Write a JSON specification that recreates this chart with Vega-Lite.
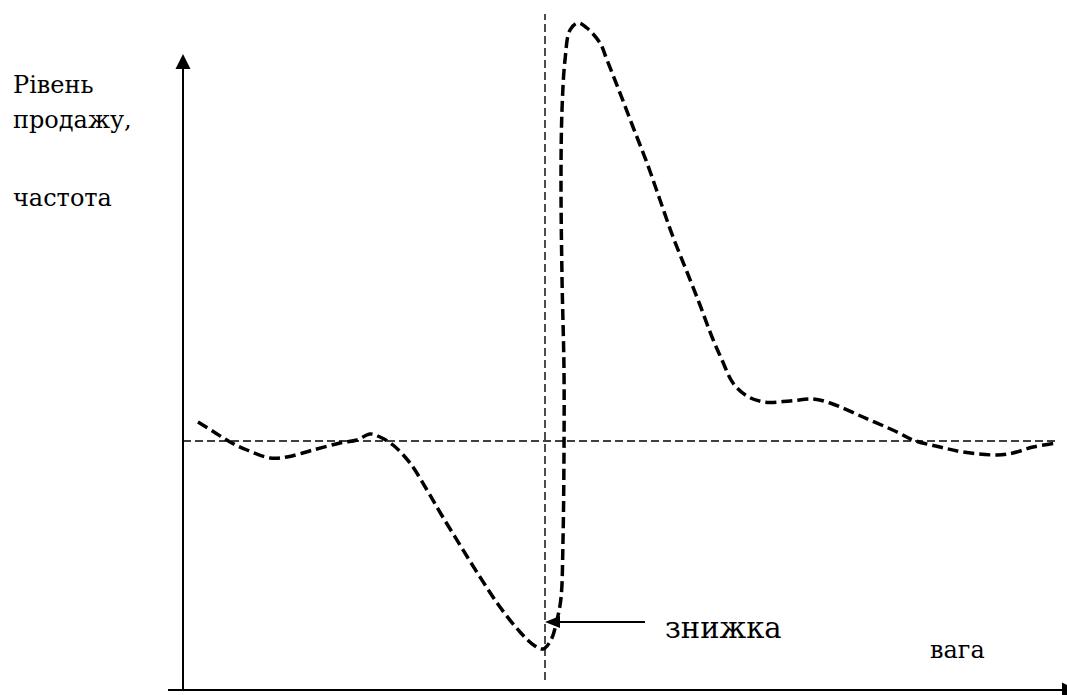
{
  "$schema": "https://vega.github.io/schema/vega-lite/v6.json",
  "width": 1067,
  "height": 695,
  "padding": 0,
  "autosize": {"type": "none"},
  "background": "white",
  "config": {"view": {"stroke": null}},
  "datasets": {
    "curve": [
      {"i": 1, "x": 15, "y": 268},
      {"i": 2, "x": 31, "y": 258},
      {"i": 3, "x": 47, "y": 248},
      {"i": 4, "x": 64, "y": 240},
      {"i": 5, "x": 87, "y": 232},
      {"i": 6, "x": 104, "y": 233},
      {"i": 7, "x": 130, "y": 240},
      {"i": 8, "x": 157, "y": 247},
      {"i": 9, "x": 174, "y": 250},
      {"i": 10, "x": 187, "y": 256},
      {"i": 11, "x": 197, "y": 253},
      {"i": 12, "x": 210, "y": 245},
      {"i": 13, "x": 227, "y": 227},
      {"i": 14, "x": 244, "y": 200},
      {"i": 15, "x": 258, "y": 176},
      {"i": 16, "x": 277, "y": 145},
      {"i": 17, "x": 297, "y": 113},
      {"i": 18, "x": 317, "y": 83},
      {"i": 19, "x": 337, "y": 58},
      {"i": 20, "x": 352, "y": 44},
      {"i": 21, "x": 360, "y": 41},
      {"i": 22, "x": 368, "y": 50},
      {"i": 23, "x": 374, "y": 70},
      {"i": 24, "x": 378, "y": 92},
      {"i": 25, "x": 380, "y": 150},
      {"i": 26, "x": 381, "y": 240},
      {"i": 27, "x": 381, "y": 320},
      {"i": 28, "x": 379, "y": 413},
      {"i": 29, "x": 378, "y": 513},
      {"i": 30, "x": 379, "y": 580},
      {"i": 31, "x": 382, "y": 630},
      {"i": 32, "x": 387, "y": 660},
      {"i": 33, "x": 395, "y": 667},
      {"i": 34, "x": 404, "y": 662},
      {"i": 35, "x": 417, "y": 647},
      {"i": 36, "x": 424, "y": 630},
      {"i": 37, "x": 437, "y": 597},
      {"i": 38, "x": 450, "y": 563},
      {"i": 39, "x": 464, "y": 527},
      {"i": 40, "x": 477, "y": 490},
      {"i": 41, "x": 490, "y": 453},
      {"i": 42, "x": 504, "y": 418},
      {"i": 43, "x": 517, "y": 385},
      {"i": 44, "x": 529, "y": 353},
      {"i": 45, "x": 539, "y": 330},
      {"i": 46, "x": 550, "y": 307},
      {"i": 47, "x": 564, "y": 294},
      {"i": 48, "x": 581, "y": 288},
      {"i": 49, "x": 607, "y": 289},
      {"i": 50, "x": 630, "y": 291},
      {"i": 51, "x": 647, "y": 287},
      {"i": 52, "x": 680, "y": 273},
      {"i": 53, "x": 714, "y": 258},
      {"i": 54, "x": 730, "y": 250},
      {"i": 55, "x": 757, "y": 243},
      {"i": 56, "x": 780, "y": 238},
      {"i": 57, "x": 814, "y": 235},
      {"i": 58, "x": 830, "y": 237},
      {"i": 59, "x": 850, "y": 243},
      {"i": 60, "x": 874, "y": 247}
    ],
    "guides": [
      {"x": 0, "x2": 875, "y": 249, "y2": 249},
      {"x": 362, "x2": 362, "y": 10, "y2": 676}
    ],
    "solid": [
      {"x": 0, "x2": 0, "y": 0, "y2": 628},
      {"x": -15, "x2": 880, "y": 0, "y2": 0},
      {"x": 377, "x2": 462, "y": 68, "y2": 68}
    ],
    "upArrow": [{"x": 0, "y": 628.5}],
    "rightArrow": [{"x": 886.5, "y": 0}],
    "leftArrow": [{"x": 369.5, "y": 68}],
    "yLabel": [
      {"x": -170, "y": 597, "label": "Рівень"},
      {"x": -170, "y": 562, "label": "продажу,"},
      {"x": -170, "y": 484, "label": "частота"}
    ],
    "xLabel": [{"x": 747, "y": 32, "label": "вага"}],
    "note": [{"x": 482, "y": 52, "label": "знижка"}]
  },
  "encoding": {
    "x": {"field": "x", "type": "quantitative", "axis": null, "scale": {"domain": [-183, 884], "nice": false, "zero": false}},
    "y": {"field": "y", "type": "quantitative", "axis": null, "scale": {"domain": [-5, 690], "nice": false, "zero": false}}
  },
  "layer": [
    {
      "data": {"name": "guides"},
      "mark": {"type": "rule", "color": "black", "strokeWidth": 1.4, "strokeDash": [8, 4]},
      "encoding": {"x2": {"field": "x2"}, "y2": {"field": "y2"}}
    },
    {
      "data": {"name": "solid"},
      "mark": {"type": "rule", "color": "black", "strokeWidth": 2},
      "encoding": {"x2": {"field": "x2"}, "y2": {"field": "y2"}}
    },
    {
      "data": {"name": "curve"},
      "mark": {"type": "line", "color": "black", "strokeWidth": 3.5, "strokeDash": [11, 5], "interpolate": "catmull-rom"},
      "encoding": {"order": {"field": "i", "type": "quantitative"}}
    },
    {
      "data": {"name": "upArrow"},
      "mark": {"type": "point", "shape": "M0,-1L1,1L-1,1Z", "size": 225, "filled": true, "color": "black", "opacity": 1}
    },
    {
      "data": {"name": "rightArrow"},
      "mark": {"type": "point", "shape": "M1,0L-1,-1L-1,1Z", "size": 225, "filled": true, "color": "black", "opacity": 1}
    },
    {
      "data": {"name": "leftArrow"},
      "mark": {"type": "point", "shape": "M-1,0L1,-0.8L1,0.8Z", "size": 225, "filled": true, "color": "black", "opacity": 1}
    },
    {
      "data": {"name": "yLabel"},
      "mark": {"type": "text", "align": "left", "baseline": "alphabetic", "font": "DejaVu Serif", "fontSize": 24, "color": "black"},
      "encoding": {"text": {"field": "label"}}
    },
    {
      "data": {"name": "xLabel"},
      "mark": {"type": "text", "align": "left", "baseline": "alphabetic", "font": "DejaVu Serif", "fontSize": 24, "color": "black"},
      "encoding": {"text": {"field": "label"}}
    },
    {
      "data": {"name": "note"},
      "mark": {"type": "text", "align": "left", "baseline": "alphabetic", "font": "DejaVu Serif", "fontSize": 29, "color": "black"},
      "encoding": {"text": {"field": "label"}}
    }
  ]
}
